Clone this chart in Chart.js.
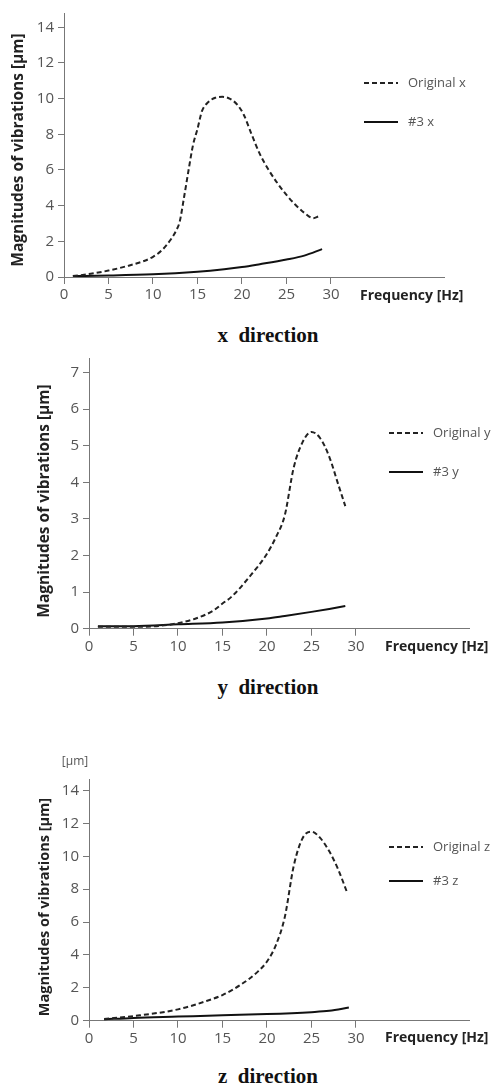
<!DOCTYPE html>
<html>
<head>
<meta charset="utf-8">
<script src="https://cdn.jsdelivr.net/npm/chart.js@4.4.0/dist/chart.umd.min.js"></script>
<style>
  html, body { margin: 0; padding: 0; background: #fff; }
  body { width: 499px; height: 1089px; position: relative; overflow: hidden; }
  .block { position: absolute; left: 0; width: 499px; }
  .caption {
    position: absolute; left: 268px; transform: translate(-50%, -50%);
    font-family: "Liberation Serif", serif; font-weight: bold; font-size: 21px;
    white-space: pre; color: #111;
  }
</style>
</head>
<body>
<div class="block" style="top:0;height:320px"><canvas id="cx"></canvas></div>
<div class="caption" style="top:335px">x  direction</div>
<div class="block" style="top:345px;height:320px"><canvas id="cy"></canvas></div>
<div class="caption" style="top:687px">y  direction</div>
<div class="block" style="top:750px;height:300px"><canvas id="cz"></canvas></div>
<div class="caption" style="top:1076px">z  direction</div>

<script>
// tick labels
const freqTicks = [0, 5, 10, 15, 20, 25, 30]
const magTicks14 = [0, 2, 4, 6, 8, 10, 12, 14]
const magTicks7 = [0, 1, 2, 3, 4, 5, 6, 7]

// x direction
const freqOrigX = [1, 3, 5, 7, 9, 10, 11, 12, 12.6, 13, 13.5, 14, 14.5, 15, 15.5, 16, 17, 17.8, 18.6, 19.4, 20.2, 21, 22, 23, 24, 25, 26, 27, 28, 28.6]
const origX = [0.05, 0.18, 0.36, 0.6, 0.9, 1.13, 1.5, 2.1, 2.6, 3.1, 4.5, 6.0, 7.4, 8.3, 9.3, 9.7, 10.05, 10.1, 10.0, 9.7, 9.1, 8.1, 6.9, 6.0, 5.25, 4.6, 4.05, 3.6, 3.3, 3.4]
const freqNo3X = [1, 5, 10, 15, 18, 20, 22, 25, 27, 29]
const no3X = [0.05, 0.08, 0.15, 0.3, 0.44, 0.56, 0.72, 0.98, 1.2, 1.56]

// y direction
const freqOrigY = [1, 5, 8, 10, 12, 14, 15, 16, 18, 20, 21, 22, 23, 24, 25, 26, 27, 28, 28.8]
const origY = [0.05, 0.05, 0.08, 0.15, 0.28, 0.5, 0.69, 0.87, 1.41, 2.05, 2.5, 3.1, 4.4, 5.1, 5.38, 5.2, 4.7, 3.95, 3.35]
const freqNo3Y = [1, 5, 10, 15, 20, 22, 25, 27, 28.8]
const no3Y = [0.07, 0.07, 0.12, 0.17, 0.28, 0.35, 0.46, 0.54, 0.62]

// z direction
const freqOrigZ = [1.7, 5, 10, 13, 15, 17, 19, 20, 21, 22, 23, 24, 25, 26, 27, 28, 29]
const origZ = [0.1, 0.28, 0.69, 1.16, 1.56, 2.17, 3.0, 3.6, 4.6, 6.3, 9.4, 11.1, 11.5, 11.1, 10.3, 9.2, 7.8]
const freqNo3Z = [1.7, 5, 10, 15, 20, 25, 27, 29.2]
const no3Z = [0.08, 0.17, 0.25, 0.33, 0.4, 0.52, 0.6, 0.8]

const yTitleText = 'Magnitudes of vibrations [\u03bcm]'
const xTitleText = 'Frequency [Hz]'

Chart.defaults.font.family = '"Open Sans", sans-serif'
Chart.defaults.animation = false

const pts = (xs, ys) => xs.map((x, i) => ({ x: x, y: ys[i] }))

// draws the axis titles and the legend where the original puts them
const annot = {
  id: 'annot',
  afterDraw(chart, args, o) {
    const ctx = chart.ctx
    ctx.save()
    ctx.fillStyle = '#222'
    ctx.textBaseline = 'middle'

    ctx.save()
    ctx.translate(o.yTitle.x, o.yTitle.y)
    ctx.rotate(-Math.PI / 2)
    ctx.textAlign = 'center'
    ctx.font = 'bold ' + o.yTitle.size + 'px "Open Sans"'
    ctx.fillText(yTitleText, 0, 0)
    ctx.restore()

    ctx.textAlign = 'left'
    ctx.font = 'bold ' + o.xTitle.size + 'px "Open Sans"'
    ctx.fillText(xTitleText, o.xTitle.x, o.xTitle.y)

    if (o.unit) {
      ctx.fillStyle = '#555'
      ctx.font = '12px "Open Sans"'
      ctx.textAlign = 'center'
      ctx.fillText('[\u03bcm]', o.unit.x, o.unit.y)
    }

    chart.data.datasets.forEach((ds, i) => {
      const y = o.legend.y[i]
      ctx.strokeStyle = ds.borderColor
      ctx.lineWidth = ds.borderWidth
      ctx.setLineDash(ds.borderDash || [])
      ctx.beginPath()
      ctx.moveTo(o.legend.x, y)
      ctx.lineTo(o.legend.x + 34, y)
      ctx.stroke()
      ctx.setLineDash([])
      ctx.fillStyle = '#555'
      ctx.textAlign = 'left'
      ctx.font = '13px "Open Sans"'
      ctx.fillText(ds.label, o.legend.x + 44, y)
    })
    ctx.restore()
  }
}

function makeChart(id, cfg) {
  return new Chart(document.getElementById(id), {
    type: 'line',
    data: {
      datasets: [
        {
          label: cfg.origLabel,
          data: cfg.orig,
          borderColor: '#222',
          borderWidth: 2,
          borderDash: [5, 3],
          pointRadius: 0,
          cubicInterpolationMode: 'monotone',
          fill: false,
        },
        {
          label: cfg.no3Label,
          data: cfg.no3,
          borderColor: '#111',
          borderWidth: 2,
          pointRadius: 0,
          cubicInterpolationMode: 'monotone',
          fill: false,
        },
      ],
    },
    options: {
      responsive: true,
      maintainAspectRatio: false,
      layout: { padding: { top: cfg.top, right: cfg.right, left: 0, bottom: 0 } },
      plugins: {
        legend: { display: false },
        tooltip: { enabled: false },
        annot: cfg.annot,
      },
      scales: {
        x: {
          type: 'linear',
          min: 0,
          max: 42.7,
          afterBuildTicks: (s) => { s.ticks = freqTicks.map((v) => ({ value: v })) },
          afterFit: (s) => { s.height = cfg.xh },
          grid: { drawOnChartArea: false, tickLength: 7, color: '#777' },
          border: { color: '#777', width: 1 },
          ticks: { color: '#555', font: { size: 15 }, padding: 2, maxRotation: 0, autoSkip: false },
        },
        y: {
          type: 'linear',
          min: 0,
          max: cfg.ymax,
          afterBuildTicks: (s) => { s.ticks = cfg.yticks.map((v) => ({ value: v })) },
          afterFit: (s) => { s.width = cfg.yw },
          grid: { drawOnChartArea: false, tickLength: 6, color: '#777' },
          border: { color: '#777', width: 1 },
          ticks: { color: '#555', font: { size: 15 }, padding: 4, autoSkip: false },
        },
      },
    },
    plugins: [annot],
  })
}

makeChart('cx', {
  origLabel: 'Original x', no3Label: '#3 x',
  orig: pts(freqOrigX, origX), no3: pts(freqNo3X, no3X),
  top: 5, right: 55, xh: 43, yw: 64, ymax: 14.8, yticks: magTicks14,
  annot: {
    yTitle: { x: 19, y: 150, size: 15.5 },
    xTitle: { x: 360, y: 296, size: 14 },
    legend: { x: 364, y: [83, 122] },
  },
})

makeChart('cy', {
  origLabel: 'Original y', no3Label: '#3 y',
  orig: pts(freqOrigY, origY), no3: pts(freqNo3Y, no3Y),
  top: 11, right: 30, xh: 36.3, yw: 89, ymax: 7.4, yticks: magTicks7,
  annot: {
    yTitle: { x: 45, y: 156, size: 15.5 },
    xTitle: { x: 385, y: 302, size: 14 },
    legend: { x: 389, y: [88, 127] },
  },
})

makeChart('cz', {
  origLabel: 'Original z', no3Label: '#3 z',
  orig: pts(freqOrigZ, origZ), no3: pts(freqNo3Z, no3Z),
  top: 29, right: 30, xh: 29.3, yw: 89, ymax: 14.7, yticks: magTicks14,
  annot: {
    yTitle: { x: 45, y: 157, size: 14.5 },
    xTitle: { x: 385, y: 288, size: 14 },
    legend: { x: 389, y: [97, 131] },
    unit: { x: 75, y: 12 },
  },
})
</script>
</body>
</html>
